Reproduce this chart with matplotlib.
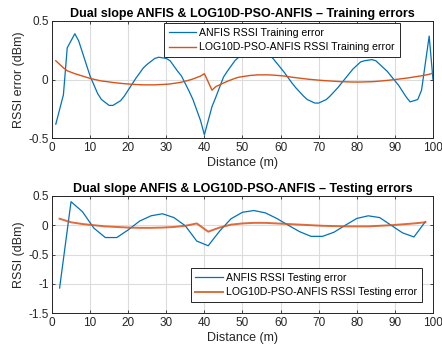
import matplotlib
matplotlib.use('Agg')
import matplotlib.pyplot as plt

plt.rcParams.update({
    'font.family': ['Liberation Sans', 'DejaVu Sans'],
    'font.size': 8,
    'axes.unicode_minus': False,
    'xtick.direction': 'in',
    'ytick.direction': 'in',
    'axes.edgecolor': '#262626',
    'xtick.color': '#262626',
    'ytick.color': '#262626',
    'axes.labelcolor': '#262626',
})

BLUE = '#0072BD'
ORANGE = '#D95319'

# training samples (distance in m)
train_x = [1, 3, 4, 6, 7, 9, 10, 12, 13, 15, 16, 18, 19, 21, 22, 24, 25, 27, 28, 30,
           31, 33, 34, 36, 37, 39, 40, 42, 43, 45, 46, 48, 49, 51, 52, 54, 55, 57, 58, 60,
           61, 63, 64, 66, 67, 69, 70, 72, 73, 75, 76, 78, 79, 81, 82, 84, 85, 87, 88, 90,
           91, 93, 94, 96, 97, 99, 100]
train_anfis = [-0.38, -0.13, 0.27, 0.39, 0.33, 0.13, 0.03, -0.12, -0.17, -0.22, -0.22, -0.18,
               -0.14, -0.04, 0.01, 0.10, 0.13, 0.18, 0.19, 0.18, 0.16, 0.07, 0.03, -0.10,
               -0.17, -0.35, -0.47, -0.23, -0.15, 0.02, 0.07, 0.16, 0.19, 0.23, 0.24, 0.25,
               0.25, 0.21, 0.18, 0.10, 0.06, -0.03, -0.07, -0.14, -0.17, -0.20, -0.20, -0.17,
               -0.14, -0.07, -0.03, 0.05, 0.09, 0.15, 0.16, 0.17, 0.16, 0.10, 0.07, -0.01,
               -0.05, -0.15, -0.19, -0.17, -0.09, 0.37, 0.0]
train_pso = [0.16, 0.10, 0.075, 0.05, 0.04, 0.02, 0.01, -0.005, -0.012, -0.02, -0.025, -0.032,
             -0.035, -0.04, -0.042, -0.045, -0.045, -0.045, -0.043, -0.04, -0.037, -0.028,
             -0.022, -0.005, 0.005, 0.03, 0.05, -0.09, -0.06, -0.03, -0.015, 0.01, 0.02,
             0.03, 0.035, 0.04, 0.04, 0.04, 0.038, 0.033, 0.03, 0.02, 0.016, 0.008, 0.004,
             -0.002, -0.005, -0.01, -0.012, -0.016, -0.018, -0.02, -0.021, -0.021, -0.02,
             -0.018, -0.016, -0.01, -0.007, 0.0, 0.004, 0.012, 0.017, 0.027, 0.032, 0.045,
             0.055]

# testing samples
test_x = [2, 5, 8, 11, 14, 17, 20, 23, 26, 29, 32, 35, 38, 41, 44, 47, 50, 53, 56, 59,
          62, 65, 68, 71, 74, 77, 80, 83, 86, 89, 92, 95, 98]
test_anfis = [-1.07, 0.40, 0.23, -0.05, -0.21, -0.21, -0.08, 0.07, 0.16, 0.195, 0.13, -0.01,
              -0.27, -0.35, -0.10, 0.11, 0.22, 0.25, 0.21, 0.115, 0.0, -0.11, -0.19, -0.19,
              -0.12, 0.0, 0.115, 0.16, 0.13, 0.0, -0.13, -0.20, 0.06]
test_pso = [0.11, 0.05, 0.02, 0.0, -0.02, -0.03, -0.04, -0.045, -0.045, -0.04, -0.03, -0.01,
            0.03, -0.11, -0.04, 0.01, 0.03, 0.04, 0.04, 0.03, 0.02, 0.01, 0.0, -0.01,
            -0.015, -0.02, -0.02, -0.02, -0.01, 0.0, 0.015, 0.03, 0.05]

fig = plt.figure(figsize=(4.42, 3.56), dpi=100)
ax1 = fig.add_axes([0.1176, 0.6115, 0.862, 0.330])
ax2 = fig.add_axes([0.1176, 0.1199, 0.862, 0.330])


def style(ax):
    ax.grid(True, color='#dcdcdc', linewidth=0.8)
    ax.set_axisbelow(True)
    ax.tick_params(top=True, right=True, length=2.5, width=0.6, labelsize=8.5, pad=2.5)
    for s in ax.spines.values():
        s.set_linewidth(0.7)
    ax.set_xlim(0, 100)
    ax.set_xticks(range(0, 101, 10))
    ax.set_xlabel('Distance (m)', fontsize=9, labelpad=2)


def legend(ax, loc, anchor):
    leg = ax.legend(loc=loc, bbox_to_anchor=anchor, fontsize=7.6,
                    fancybox=False, framealpha=1, edgecolor='#262626',
                    handlelength=2.6, handletextpad=0.3, borderpad=0.45,
                    labelspacing=0.45, borderaxespad=0)
    leg.get_frame().set_linewidth(0.7)


ax1.plot(train_x, train_anfis, color=BLUE, lw=0.9, label='ANFIS RSSI Training error')
ax1.plot(train_x, train_pso, color=ORANGE, lw=1.0, label='LOG10D-PSO-ANFIS RSSI Training error')
style(ax1)
ax1.set_ylim(-0.5, 0.5)
ax1.set_yticks([-0.5, 0, 0.5])
ax1.set_yticklabels(['-0.5', '0', '0.5'])
ax1.set_ylabel('RSSI error (dBm)', fontsize=9, labelpad=2)
ax1.set_title('Dual slope ANFIS & LOG10D-PSO-ANFIS \u2013 Training errors',
              fontsize=9, fontweight='bold', pad=3)
legend(ax1, 'upper right', (0.913, 0.983))

ax2.plot(test_x, test_anfis, color=BLUE, lw=0.9, label='ANFIS RSSI Testing error')
ax2.plot(test_x, test_pso, color=ORANGE, lw=1.4, alpha=0.85, label='LOG10D-PSO-ANFIS RSSI Testing error')
style(ax2)
ax2.set_ylim(-1.5, 0.5)
ax2.set_yticks([-1.5, -1, -0.5, 0, 0.5])
ax2.set_yticklabels(['-1.5', '-1', '-0.5', '0', '0.5'])
ax2.set_ylabel('RSSI (dBm)', fontsize=9, labelpad=2)
ax2.set_title('Dual slope ANFIS & LOG10D-PSO-ANFIS \u2013 Testing errors',
              fontsize=9, fontweight='bold', pad=3)
legend(ax2, 'lower right', (0.971, 0.096))

fig.savefig('out.png', dpi=100)
